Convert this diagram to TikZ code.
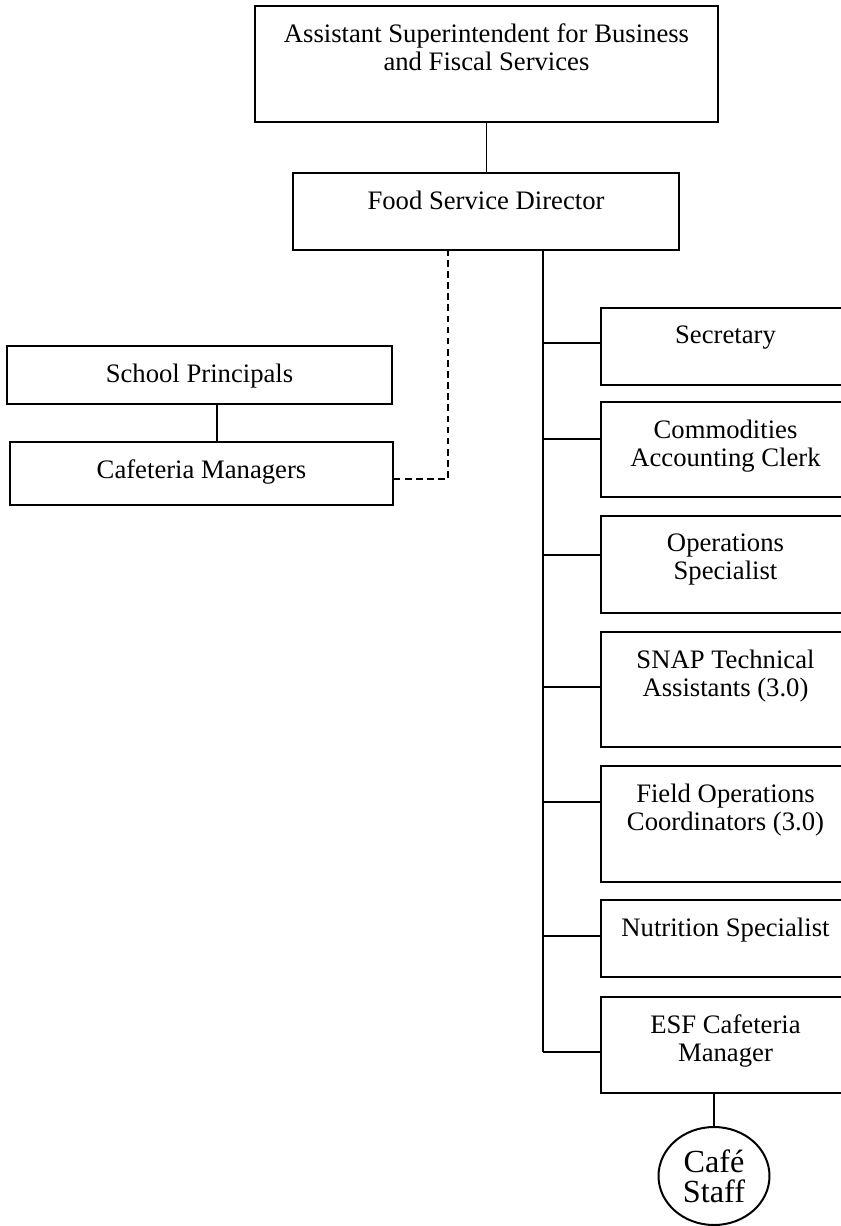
\documentclass[tikz,border=0pt]{standalone}
\usepackage{fontspec}
\setmainfont{Liberation Serif}
\usetikzlibrary{shapes.geometric}
\tikzset{
    box/.style={rectangle, draw=black, line width=0.65pt, inner sep=0pt,
        label={[anchor=north, align=center, inner sep=0pt, yshift=-8.1pt, font=\fontsize{12}{12.8}\selectfont]north:#1}},
    staffbox/.style={box=#1, minimum width=112.05pt},
    staffcircle/.style={ellipse, draw=black, line width=0.9pt, inner sep=0pt, align=center, font=\fontsize{14.5}{13.5}\selectfont},
    link/.style={draw=black, line width=0.6pt},
    dashedlink/.style={draw=black, line width=0.6pt, dash pattern=on 3pt off 2pt}
}
\begin{document}
\begin{tikzpicture}[x=0.45pt, y=-0.45pt]
    \useasboundingbox (0,0) rectangle (841,1226);
    \clip (0,0) rectangle (841,1226);
    \node[box={Assistant Superintendent for Business\\and Fiscal Services}, minimum width=208.35pt, minimum height=52.2pt] (asst) at (486.5,64) {};
    \node[box={Food Service Director}, minimum width=173.7pt, minimum height=34.65pt] (fsd) at (486,211.5) {};
    \node[box={School Principals}, minimum width=173.25pt, minimum height=26.1pt] (prin) at (199.5,375) {};
    \node[box={Cafeteria Managers}, minimum width=172.35pt, minimum height=28.35pt] (cafm) at (201.5,473.5) {};

    \node[staffbox={Secretary}, minimum height=34.65pt] (sec) at (725.5,346.5) {};
    \node[staffbox={Commodities\\Accounting Clerk}, minimum height=42.75pt] (com) at (725.5,449.5) {};
    \node[staffbox={Operations\\Specialist}, minimum height=43.65pt] (ops) at (725.5,564.5) {};
    \node[staffbox={SNAP Technical\\Assistants (3.0)}, minimum height=51.75pt] (snap) at (725.5,689.5) {};
    \node[staffbox={Field Operations\\Coordinators (3.0)}, minimum height=52.2pt] (fld) at (725.5,824) {};
    \node[staffbox={Nutrition Specialist}, minimum height=34.65pt] (nut) at (725.5,938.5) {};
    \node[staffbox={ESF Cafeteria\\Manager}, minimum height=43.2pt] (esf) at (725.5,1045) {};
    \node[staffcircle, minimum width=49.95pt, minimum height=44.1pt] (staff) at (714,1176) {Café\\Staff};

    \coordinate (trunk) at (543,0);
    \coordinate (dashx) at (448,0);
    \coordinate (prinx) at (217,0);

    \draw[link] (asst.south) -- (asst.south |- fsd.north);
    \draw[link] (fsd.south -| trunk) -- ([yshift=-3.15pt]esf.west -| trunk);
    \foreach \b/\dy in {sec/1.6, com/4.7, ops/4.3, snap/1.1, fld/9.9, nut/1.1, esf/-3.15}
        \draw[link] ([yshift=\dy pt]\b.west) -- ([yshift=\dy pt]\b.west -| trunk);
    \draw[dashedlink] ([yshift=-2.5pt]cafm.east) -| (fsd.south -| dashx);
    \draw[link] (prin.south -| prinx) -- (cafm.north -| prinx);
    \draw[link] (staff.north) -- (staff.north |- esf.south);
\end{tikzpicture}
\end{document}
